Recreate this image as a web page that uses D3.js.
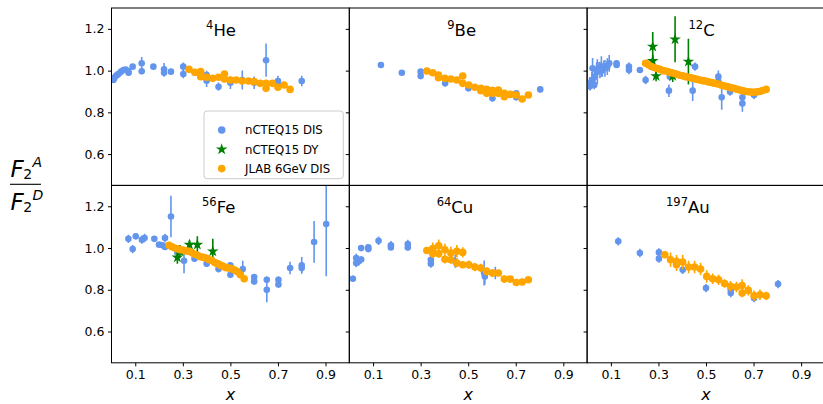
<!DOCTYPE html>
<meta charset="utf-8">
<style>
    body { margin: 0; background: #fff; }
    text { font-family: "DejaVu Sans", sans-serif; fill: #000; }
    .axis line { stroke: #000; stroke-width: 1px; }
    .axis text { font-size: 12.5px; }
    .frame { fill: none; stroke: #000; stroke-width: 1px; }
</style>
<svg width="823" height="404"></svg>
<script src="https://d3js.org/d3.v7.min.js"></script>
<script>
    // nuclei shown, one panel each
    var nuclei = ["He", "Be", "C", "Fe", "Cu", "Au"];
    var massNumbers = ["4", "9", "12", "56", "64", "197"];
    var seriesNames = ["nCTEQ15 DIS", "nCTEQ15 DY", "JLAB 6GeV DIS"];
    var xTicks = [0.1, 0.3, 0.5, 0.7, 0.9];
    var yTicks = [0.6, 0.8, 1.0, 1.2];

    // [x, F2A/F2D, error]
    var heDis = [[0.008,0.955,0.01],[0.012,0.965,0.01],[0.019,0.975,0.01],[0.025,0.98,0.01],[0.03,0.985,0.01],[0.04,0.995,0.01],
        [0.05,1.003,0.01],[0.06,1.005,0.01],[0.07,0.998,0.01],[0.072,0.99,0.01],[0.089,1.019,0.01],[0.127,1.035,0.03],[0.127,0.997,0.015],
        [0.176,1.019,0.01],[0.221,1.006,0.03],[0.221,0.99,0.02],[0.25,0.995,0.01],[0.302,1.019,0.02],[0.302,0.984,0.02],[0.35,0.99,0.01],
        [0.40,0.979,0.02],[0.40,0.952,0.03],[0.45,0.923,0.02],[0.50,0.942,0.03],[0.55,0.955,0.045],[0.60,0.942,0.03],[0.65,1.05,0.08],
        [0.70,0.95,0.025],[0.70,0.93,0.02],[0.80,0.95,0.025]];
    var heJlab = [[0.326,1.006,0.005],[0.351,0.992,0.005],[0.375,0.995,0.005],[0.375,0.971,0.005],[0.40,0.968,0.005],[0.426,0.963,0.005],
        [0.45,0.968,0.005],[0.475,0.984,0.005],[0.475,0.96,0.005],[0.50,0.955,0.005],[0.524,0.955,0.005],[0.549,0.95,0.005],[0.576,0.95,0.005],
        [0.60,0.947,0.005],[0.625,0.939,0.005],[0.65,0.939,0.005],[0.65,0.915,0.005],[0.677,0.939,0.005],[0.70,0.92,0.005],[0.726,0.931,0.005],
        [0.751,0.91,0.005]];

    var beDis = [[0.133,1.027,0.01],[0.221,0.99,0.01],[0.30,0.995,0.01],[0.30,0.974,0.015],[0.403,0.939,0.015],[0.501,0.915,0.01],
        [0.602,0.907,0.01],[0.602,0.867,0.015],[0.702,0.891,0.01],[0.702,0.872,0.01],[0.803,0.91,0.015]];
    var beJlab = [[0.326,0.998,0.005],[0.351,0.99,0.005],[0.375,0.979,0.005],[0.375,0.966,0.005],[0.402,0.963,0.005],[0.427,0.96,0.005],
        [0.452,0.955,0.005],[0.477,0.974,0.005],[0.477,0.939,0.005],[0.502,0.931,0.005],[0.528,0.92,0.005],[0.553,0.915,0.005],[0.553,0.904,0.005],
        [0.578,0.91,0.005],[0.578,0.891,0.005],[0.602,0.904,0.005],[0.602,0.891,0.005],[0.627,0.907,0.005],[0.627,0.891,0.005],
        [0.652,0.891,0.005],[0.652,0.875,0.005],[0.677,0.886,0.005],[0.702,0.883,0.005],[0.727,0.864,0.005],[0.753,0.883,0.005]];

    var cDis = [[0.012,0.939,0.03],[0.012,0.925,0.02],[0.02,0.955,0.04],[0.023,1.011,0.05],[0.03,0.931,0.02],[0.033,0.971,0.05],
        [0.04,1.0,0.04],[0.043,0.995,0.06],[0.05,1.011,0.03],[0.054,1.003,0.04],[0.06,1.019,0.05],[0.064,1.0,0.03],[0.07,1.019,0.03],
        [0.075,1.011,0.04],[0.085,1.019,0.04],[0.093,1.035,0.04],[0.124,1.027,0.015],[0.124,1.035,0.015],[0.176,1.019,0.02],
        [0.176,1.003,0.02],[0.222,1.003,0.01],[0.246,0.955,0.02],[0.344,0.904,0.03],[0.348,0.971,0.02],[0.444,0.904,0.05],
        [0.454,1.019,0.02],[0.552,0.971,0.03],[0.552,0.947,0.02],[0.566,0.872,0.06],[0.601,0.899,0.02],[0.653,0.872,0.04],
        [0.653,0.843,0.04],[0.702,0.883,0.02]];
    var cDy = [[0.276,1.115,0.07],[0.276,1.046,0.03],[0.29,0.974,0.025],[0.36,0.975,0.03],[0.37,1.15,0.11],[0.426,1.043,0.11]];
    var cJlab = [[0.246,1.035,0.005],[0.258,1.028,0.005],[0.27,1.02,0.005],[0.282,1.015,0.005],[0.294,1.01,0.005],[0.306,1.006,0.005],
        [0.318,1.0,0.005],[0.33,0.998,0.005],[0.342,0.994,0.005],[0.354,0.99,0.005],[0.366,0.986,0.005],[0.378,0.982,0.005],
        [0.39,0.978,0.005],[0.402,0.975,0.005],[0.414,0.971,0.005],[0.426,0.968,0.005],[0.438,0.965,0.005],[0.45,0.962,0.005],
        [0.462,0.958,0.005],[0.474,0.955,0.005],[0.486,0.952,0.005],[0.498,0.95,0.005],[0.51,0.946,0.005],[0.522,0.943,0.005],
        [0.534,0.94,0.005],[0.546,0.937,0.005],[0.558,0.933,0.005],[0.57,0.929,0.005],[0.582,0.925,0.005],[0.594,0.922,0.005],
        [0.606,0.918,0.005],[0.618,0.915,0.005],[0.63,0.911,0.005],[0.642,0.907,0.005],[0.654,0.904,0.005],[0.666,0.9,0.005],
        [0.678,0.899,0.005],[0.69,0.897,0.005],[0.702,0.896,0.005],[0.714,0.898,0.005],[0.726,0.9,0.005],[0.738,0.905,0.005],
        [0.753,0.91,0.005]];

    var feDis = [[0.071,1.044,0.02],[0.089,0.995,0.02],[0.102,1.056,0.015],[0.128,1.04,0.02],[0.139,1.048,0.02],[0.18,1.044,0.01],
        [0.2,1.016,0.01],[0.215,1.013,0.01],[0.225,1.048,0.02],[0.225,1.005,0.01],[0.25,1.151,0.1],[0.277,0.979,0.02],[0.305,0.939,0.06],
        [0.349,0.949,0.015],[0.40,0.925,0.015],[0.45,0.899,0.015],[0.50,0.917,0.015],[0.50,0.872,0.015],[0.552,0.899,0.04],
        [0.60,0.861,0.015],[0.60,0.84,0.015],[0.653,0.848,0.015],[0.653,0.80,0.06],[0.702,0.848,0.015],[0.702,0.825,0.015],
        [0.751,0.904,0.03],[0.80,0.917,0.04],[0.80,0.904,0.02],[0.852,1.029,0.1],[0.903,1.115,0.25]];
    var feDy = [[0.277,0.955,0.03],[0.288,0.984,0.03],[0.328,1.016,0.02],[0.361,1.016,0.04],[0.426,0.984,0.06]];
    var feJlab = [[0.242,1.013,0.005],[0.254,1.006,0.005],[0.266,1.0,0.005],[0.278,0.996,0.005],[0.29,0.992,0.005],[0.302,0.99,0.005],
        [0.314,0.986,0.005],[0.326,0.984,0.005],[0.338,0.978,0.005],[0.35,0.97,0.005],[0.362,0.965,0.005],[0.374,0.958,0.005],
        [0.386,0.955,0.005],[0.398,0.952,0.005],[0.41,0.944,0.005],[0.422,0.94,0.005],[0.434,0.93,0.005],[0.446,0.925,0.005],
        [0.458,0.918,0.005],[0.47,0.912,0.005],[0.482,0.906,0.005],[0.494,0.904,0.005],[0.506,0.9,0.005],[0.518,0.895,0.005],
        [0.53,0.886,0.005],[0.542,0.872,0.005],[0.558,0.853,0.005]];

    var cuDis = [[0.015,0.853,0.015],[0.029,0.928,0.02],[0.029,0.952,0.02],[0.04,0.936,0.02],[0.05,1.0,0.015],[0.05,0.945,0.015],
        [0.08,0.995,0.015],[0.08,1.003,0.01],[0.123,1.035,0.02],[0.175,1.013,0.02],[0.175,1.003,0.01],[0.246,1.019,0.02],
        [0.246,1.003,0.015],[0.343,0.944,0.02],[0.343,0.925,0.02],[0.445,0.936,0.03],[0.567,0.88,0.06],[0.57,0.864,0.04],[0.614,0.88,0.03]];
    var cuJlab = [[0.326,0.988,0.01],[0.351,0.997,0.03],[0.351,0.973,0.02],[0.376,1.011,0.03],[0.376,0.973,0.02],[0.402,0.992,0.03],
        [0.402,0.946,0.02],[0.427,0.976,0.03],[0.427,0.944,0.02],[0.452,0.984,0.03],[0.452,0.928,0.02],[0.477,0.979,0.025],
        [0.477,0.92,0.015],[0.503,0.92,0.02],[0.528,0.909,0.02],[0.553,0.904,0.02],[0.578,0.888,0.02],[0.602,0.88,0.02],
        [0.627,0.88,0.015],[0.652,0.851,0.015],[0.677,0.851,0.015],[0.702,0.835,0.015],[0.727,0.837,0.015],[0.753,0.848,0.01]];

    var auDis = [[0.131,1.032,0.02],[0.222,0.976,0.02],[0.302,0.979,0.02],[0.302,0.949,0.02],[0.402,0.896,0.02],[0.50,0.808,0.02],
        [0.604,0.784,0.02],[0.604,0.8,0.02],[0.702,0.76,0.02],[0.803,0.827,0.02]];
    var auJlab = [[0.327,0.968,0.015],[0.351,0.944,0.035],[0.376,0.92,0.03],[0.376,0.936,0.03],[0.402,0.933,0.035],[0.427,0.909,0.03],
        [0.452,0.909,0.03],[0.477,0.899,0.03],[0.503,0.864,0.03],[0.528,0.853,0.025],[0.553,0.848,0.025],[0.578,0.83,0.02],
        [0.603,0.817,0.025],[0.628,0.813,0.025],[0.652,0.82,0.03],[0.652,0.784,0.02],[0.678,0.797,0.025],[0.702,0.771,0.025],
        [0.727,0.776,0.025],[0.753,0.771,0.02]];

    var disData = [heDis, beDis, cDis, feDis, cuDis, auDis];
    var dyData = [[], [], cDy, feDy, [], []];
    var jlabData = [heJlab, beJlab, cJlab, feJlab, cuJlab, auJlab];

    var colors = ["#6495ED", "green", "orange"];
    var titleOffset = [109.5, 112.4, 114.5, 107.2, 105.7, 100.8];

    var svg = d3.select("svg"),
        margin = {top: 8, left: 111.5},
        pw = 237.8,
        ph = 177.4;

    var x = d3.scaleLinear().domain([0, 1]).range([0, pw]);
    var y = d3.scaleLinear().domain([0.45, 1.3]).range([ph, 0]);
    var star = d3.symbol().type(d3.symbolStar).size(42);

    nuclei.forEach(function(name, i) {
        var col = i % 3, row = Math.floor(i / 3);
        var g = svg.append("g")
            .attr("transform", "translate(" + (margin.left + col * pw) + "," + (margin.top + row * ph) + ")");

        g.append("clipPath").attr("id", "clip" + i)
            .append("rect").attr("width", pw).attr("height", ph);

        var yAxis = g.append("g").attr("class", "axis")
            .call(d3.axisLeft(y).tickValues(yTicks).tickSize(3.5).tickPadding(3.5).tickFormat(d3.format(".1f")));
        yAxis.select(".domain").remove();
        if (col > 0) yAxis.selectAll("text").remove();

        if (row == 1) {
            var xAxis = g.append("g").attr("class", "axis")
                .attr("transform", "translate(0," + ph + ")")
                .call(d3.axisBottom(x).tickValues(xTicks).tickSize(3.5).tickPadding(3.5).tickFormat(d3.format(".1f")));
            xAxis.select(".domain").remove();
            g.append("text")
                .attr("x", pw / 2).attr("y", ph + 37)
                .attr("text-anchor", "middle")
                .style("font-size", "16px").style("font-style", "italic")
                .text("x");
        }

        var plot = g.append("g").attr("clip-path", "url(#clip" + i + ")");

        [disData[i], dyData[i], jlabData[i]].forEach(function(set, s) {
            plot.selectAll(".err" + s)
                .data(set)
                .enter().append("line")
                .attr("x1", function(d) { return x(d[0]); })
                .attr("x2", function(d) { return x(d[0]); })
                .attr("y1", function(d) { return y(d[1] - d[2]); })
                .attr("y2", function(d) { return y(d[1] + d[2]); })
                .attr("stroke", colors[s])
                .attr("stroke-width", 1.6);
            if (s == 1) {
                plot.selectAll(".pt" + s)
                    .data(set)
                    .enter().append("path")
                    .attr("d", star)
                    .attr("transform", function(d) { return "translate(" + x(d[0]) + "," + y(d[1]) + ")"; })
                    .attr("fill", colors[s]);
            } else {
                plot.selectAll(".pt" + s)
                    .data(set)
                    .enter().append("circle")
                    .attr("cx", function(d) { return x(d[0]); })
                    .attr("cy", function(d) { return y(d[1]); })
                    .attr("r", s == 2 ? 3.8 : 3.3)
                    .attr("fill", colors[s]);
            }
        });

        var title = g.append("text")
            .attr("x", titleOffset[i]).attr("y", 27.5)
            .attr("text-anchor", "middle");
        title.append("tspan").style("font-size", "11.5px").attr("dy", -6.5).text(massNumbers[i]);
        title.append("tspan").style("font-size", "16.5px").attr("dy", 6.5).text(name);

        g.append("rect").attr("class", "frame").attr("width", pw).attr("height", ph);

        if (i == 0) {
            var legend = g.append("g").attr("transform", "translate(92.5,103)");
            legend.append("rect")
                .attr("width", 139.3).attr("height", 67.7)
                .attr("rx", 3)
                .attr("fill", "#fff").attr("fill-opacity", 0.8)
                .attr("stroke", "#ccc");
            seriesNames.forEach(function(label, s) {
                var ly = 19 + s * 19.3;
                if (s == 1) {
                    legend.append("path").attr("d", star)
                        .attr("transform", "translate(17.7," + ly + ")")
                        .attr("fill", colors[s]);
                } else {
                    legend.append("circle").attr("cx", 17.7).attr("cy", ly)
                        .attr("r", 3.8).attr("fill", colors[s]);
                }
                legend.append("text").attr("x", 41).attr("y", ly + 4.2)
                    .style("font-size", "11.7px").text(label);
            });
        }
    });

    // y label as a fraction F2^A / F2^D
    var ylab = svg.append("g").attr("transform", "translate(10,184.3)");
    [["A", -7.6], ["D", 25.7]].forEach(function(p) {
        var t = ylab.append("text").attr("y", p[1]).attr("x", 0.5);
        t.append("tspan").style("font-size", "23px").style("font-style", "italic").text("F");
        t.append("tspan").style("font-size", "14px").attr("dy", 2).attr("dx", -0.5).text("2");
        t.append("tspan").style("font-size", "14px").style("font-style", "italic").attr("dx", 0.3).attr("dy", -12).text(p[0]);
    });
    ylab.append("line").attr("x1", 0).attr("x2", 31)
        .attr("stroke", "#000").attr("stroke-width", 1.1);
</script>
